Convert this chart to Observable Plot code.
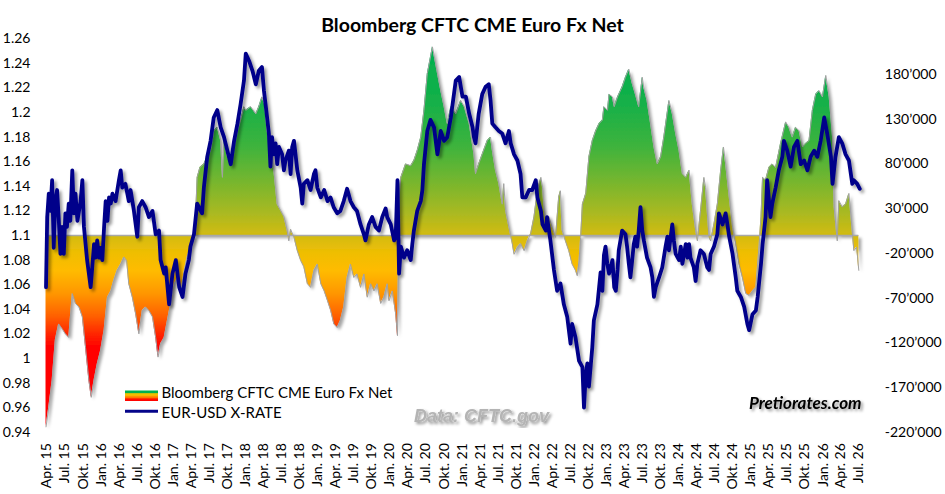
<!DOCTYPE html>
<html>
<head>
<meta charset="utf-8">
<script src="https://cdn.jsdelivr.net/npm/d3@7"></script>
<script src="https://cdn.jsdelivr.net/npm/@observablehq/plot@0.6"></script>
<style>
  html, body { margin: 0; padding: 0; background: #fff; }
  #chart { width: 945px; height: 494px; }
</style>
</head>
<body>
<div id="chart"></div>
<script>
// ---------------- data ----------------
const eurDates = [
  "2015-03-27","2015-04-02","2015-04-10","2015-04-18","2015-04-27","2015-05-05","2015-05-13","2015-05-22","2015-05-30","2015-06-08","2015-06-16","2015-06-25","2015-07-03","2015-07-11","2015-07-20","2015-07-28","2015-08-07","2015-08-15","2015-08-23","2015-09-02","2015-09-10","2015-09-18","2015-09-27","2015-10-05","2015-10-21","2015-11-08","2015-11-16","2015-11-25","2015-12-03","2015-12-11","2015-12-20","2015-12-28",
  "2016-01-06","2016-01-15","2016-01-23","2016-02-01","2016-02-09","2016-02-18","2016-02-26","2016-03-13","2016-03-30","2016-04-08","2016-04-16","2016-05-02","2016-05-19","2016-05-28","2016-06-14","2016-07-01","2016-07-09","2016-07-26","2016-08-12","2016-08-29","2016-09-16","2016-10-02","2016-10-19","2016-10-27","2016-11-14","2016-11-22","2016-12-09","2016-12-26",
  "2017-01-12","2017-01-29","2017-02-15","2017-03-02","2017-03-19","2017-03-27","2017-04-14","2017-04-30","2017-05-25","2017-06-03","2017-06-20","2017-07-07","2017-07-23","2017-08-10","2017-08-27","2017-09-13","2017-09-30","2017-10-17","2017-11-03","2017-11-20","2017-12-06","2017-12-23",
  "2018-01-01","2018-01-18","2018-02-04","2018-02-21","2018-03-08","2018-03-24","2018-04-03","2018-04-19","2018-04-28","2018-05-06","2018-05-14","2018-05-23","2018-06-01","2018-06-09","2018-06-18","2018-07-04","2018-07-13","2018-07-21","2018-08-07","2018-08-16","2018-08-24","2018-09-02","2018-09-19","2018-10-06","2018-10-14","2018-10-22","2018-11-09","2018-11-25","2018-12-12","2018-12-20","2018-12-29",
  "2019-01-16","2019-02-02","2019-02-19","2019-03-06","2019-03-22","2019-04-09","2019-04-25","2019-05-12","2019-05-29","2019-06-15","2019-07-02","2019-07-18","2019-08-05","2019-08-22","2019-08-30","2019-09-16","2019-10-03","2019-10-20","2019-11-06","2019-11-23","2019-12-10","2019-12-18",
  "2020-01-05","2020-01-22","2020-01-30","2020-02-08","2020-02-16","2020-02-25","2020-03-12","2020-03-28","2020-04-15","2020-04-23","2020-05-01","2020-05-18","2020-06-05","2020-06-13","2020-06-21","2020-07-08","2020-07-24","2020-08-11","2020-08-28","2020-09-14","2020-10-01","2020-10-17","2020-11-04","2020-11-29","2020-12-16",
  "2021-01-02","2021-01-19","2021-02-05","2021-02-22","2021-03-01","2021-03-09","2021-03-25","2021-04-12","2021-04-29","2021-05-15","2021-05-24","2021-06-02","2021-06-18","2021-07-05","2021-07-22","2021-08-08","2021-08-25","2021-09-03","2021-09-20","2021-10-07","2021-10-23","2021-11-01","2021-11-18","2021-12-05","2021-12-21",
  "2022-01-08","2022-01-16","2022-02-03","2022-02-11","2022-02-28","2022-03-06","2022-03-23","2022-04-10","2022-04-26","2022-05-13","2022-05-30","2022-06-16","2022-07-03","2022-07-11","2022-07-28","2022-08-15","2022-09-01","2022-09-09","2022-09-18","2022-09-26","2022-10-04","2022-10-21","2022-10-29","2022-11-16","2022-12-02","2022-12-11","2022-12-19","2022-12-27",
  "2023-01-05","2023-01-14","2023-01-31","2023-02-09","2023-02-17","2023-02-26","2023-03-04","2023-03-21","2023-04-07","2023-04-15","2023-04-24","2023-05-02","2023-05-11","2023-05-19","2023-05-27","2023-06-05","2023-06-13","2023-06-22","2023-07-01","2023-07-09","2023-07-25","2023-08-12","2023-08-21","2023-08-29","2023-09-07","2023-09-24","2023-10-10","2023-10-27","2023-11-05","2023-11-13","2023-11-30","2023-12-08","2023-12-17",
  "2024-01-03","2024-01-12","2024-01-20","2024-02-06","2024-02-15","2024-02-23","2024-03-01","2024-03-18","2024-03-27","2024-04-05","2024-04-21","2024-05-08","2024-05-25","2024-06-03","2024-06-11","2024-06-28","2024-07-15","2024-07-23","2024-08-10","2024-08-26","2024-09-04","2024-09-13","2024-09-30","2024-10-16","2024-10-24","2024-11-11","2024-11-28","2024-12-14","2024-12-23",
  "2025-01-09","2025-01-26","2025-02-04","2025-02-21","2025-03-01","2025-03-16","2025-03-24","2025-04-10","2025-04-19","2025-05-06","2025-05-22","2025-06-09","2025-06-17","2025-07-04","2025-07-21","2025-08-07","2025-08-24","2025-09-10","2025-09-27","2025-10-14","2025-10-30","2025-11-17","2025-12-03","2025-12-20",
  "2026-01-07","2026-01-23","2026-02-10","2026-02-18","2026-03-05","2026-03-22","2026-04-08","2026-04-25","2026-05-12","2026-05-29","2026-06-06","2026-06-23","2026-07-06"
];
const eurValues = [
  1.058,1.115,1.134,1.120,1.145,1.090,1.128,1.137,1.115,1.085,1.107,1.085,1.118,1.107,1.126,1.112,1.153,1.118,1.134,1.112,1.120,1.128,1.145,1.107,1.080,1.058,1.074,1.093,1.082,1.096,1.082,1.090,
  1.080,1.107,1.128,1.112,1.131,1.126,1.134,1.128,1.145,1.153,1.139,1.142,1.128,1.137,1.120,1.099,1.123,1.128,1.123,1.115,1.120,1.101,1.104,1.080,1.069,1.074,1.044,1.069,
  1.080,1.058,1.050,1.069,1.080,1.091,1.101,1.126,1.118,1.139,1.164,1.177,1.196,1.202,1.188,1.180,1.169,1.158,1.177,1.191,1.207,1.226,
  1.248,1.242,1.234,1.223,1.234,1.237,1.218,1.196,1.183,1.156,1.180,1.166,1.175,1.158,1.172,1.166,1.153,1.161,1.169,1.150,1.172,1.177,1.153,1.139,1.126,1.142,1.145,1.137,1.150,1.153,1.139,
  1.131,1.137,1.128,1.131,1.123,1.118,1.120,1.128,1.138,1.128,1.123,1.120,1.109,1.101,1.096,1.109,1.115,1.107,1.104,1.115,1.122,1.115,
  1.109,1.096,1.099,1.145,1.069,1.091,1.082,1.088,1.080,1.093,1.104,1.120,1.128,1.137,1.158,1.185,1.194,1.188,1.166,1.185,1.177,1.180,1.196,1.226,1.229,
  1.213,1.213,1.199,1.188,1.180,1.175,1.199,1.215,1.221,1.223,1.210,1.191,1.188,1.185,1.183,1.175,1.185,1.175,1.166,1.161,1.150,1.131,1.131,1.137,1.137,
  1.145,1.131,1.120,1.109,1.104,1.115,1.096,1.072,1.055,1.061,1.044,1.034,1.012,1.028,1.017,0.998,0.993,0.960,0.987,0.996,0.977,1.009,1.031,1.044,1.070,1.055,1.084,1.091,
  1.077,1.069,1.080,1.058,1.055,1.072,1.088,1.104,1.101,1.091,1.077,1.066,1.080,1.093,1.099,1.091,1.104,1.123,1.104,1.096,1.082,1.074,1.066,1.050,1.058,1.066,1.074,1.091,1.099,1.088,1.109,1.096,1.085,
  1.080,1.091,1.077,1.093,1.082,1.093,1.082,1.074,1.063,1.077,1.088,1.085,1.074,1.072,1.085,1.091,1.101,1.118,1.109,1.118,1.109,1.099,1.085,1.066,1.055,1.050,1.042,1.028,1.023,
  1.036,1.039,1.050,1.077,1.093,1.115,1.145,1.115,1.126,1.139,1.153,1.164,1.177,1.169,1.156,1.172,1.177,1.158,1.161,1.153,1.164,1.169,1.164,1.177,
  1.196,1.182,1.164,1.142,1.164,1.180,1.175,1.166,1.161,1.142,1.145,1.142,1.138
];

const netDates = [
  "2015-03-27","2015-04-10","2015-04-27","2015-05-13","2015-05-30","2015-06-16","2015-07-03","2015-07-20","2015-08-07","2015-08-23","2015-09-10","2015-09-27","2015-10-13","2015-10-30","2015-11-11","2015-11-25","2015-12-11","2015-12-28",
  "2016-01-15","2016-02-01","2016-02-18","2016-03-04","2016-03-21","2016-04-08","2016-04-24","2016-05-08","2016-05-19","2016-06-06","2016-06-23","2016-07-09","2016-07-26","2016-08-12","2016-08-29","2016-09-16","2016-10-02","2016-10-14","2016-10-27","2016-11-14","2016-11-27","2016-12-17",
  "2017-01-04","2017-01-21","2017-02-07","2017-02-24","2017-03-10","2017-03-27","2017-04-14","2017-04-22","2017-04-30","2017-05-14","2017-06-03","2017-06-20","2017-07-07","2017-07-23","2017-08-10","2017-08-27","2017-09-05","2017-09-13","2017-09-30","2017-10-17","2017-11-03","2017-11-20","2017-12-06","2017-12-23",
  "2018-01-01","2018-01-26","2018-02-21","2018-03-08","2018-03-24","2018-04-06","2018-04-19","2018-05-06","2018-05-23","2018-06-09","2018-06-26","2018-07-13","2018-07-29","2018-08-07","2018-08-16","2018-09-02","2018-09-19","2018-10-06","2018-10-22","2018-11-09","2018-11-25","2018-12-12","2018-12-29",
  "2019-01-16","2019-02-02","2019-02-19","2019-03-07","2019-03-23","2019-04-09","2019-04-25","2019-05-12","2019-05-29","2019-06-15","2019-07-02","2019-07-18","2019-08-05","2019-08-22","2019-09-08","2019-09-25","2019-10-12","2019-10-28","2019-11-15","2019-12-01","2019-12-18","2019-12-27",
  "2020-01-13","2020-01-30","2020-02-08","2020-02-16","2020-02-25","2020-03-20","2020-04-15","2020-05-01","2020-05-18","2020-06-05","2020-06-21","2020-07-08","2020-08-03","2020-08-19","2020-09-14","2020-10-01","2020-10-17","2020-11-04","2020-11-29","2020-12-24",
  "2021-01-11","2021-02-05","2021-03-01","2021-03-09","2021-03-25","2021-04-12","2021-05-07","2021-05-24","2021-06-02","2021-06-18","2021-07-05","2021-07-22","2021-07-30","2021-08-08","2021-08-25","2021-09-11","2021-09-20","2021-10-07","2021-10-23","2021-11-10","2021-11-26","2021-12-13","2021-12-30",
  "2022-01-16","2022-02-03","2022-02-11","2022-02-20","2022-03-06","2022-03-15","2022-04-01","2022-04-18","2022-05-04","2022-05-13","2022-05-21","2022-06-07","2022-06-24","2022-07-11","2022-07-28","2022-08-06","2022-08-15","2022-08-23","2022-09-01","2022-09-18","2022-10-04","2022-10-21","2022-11-07","2022-11-24","2022-12-11","2022-12-19",
  "2023-01-06","2023-01-14","2023-01-31","2023-02-09","2023-02-26","2023-03-21","2023-04-07","2023-04-24","2023-05-11","2023-05-27","2023-06-13","2023-07-01","2023-07-08","2023-07-25","2023-08-12","2023-08-29","2023-09-15","2023-10-02","2023-10-18","2023-11-13","2023-11-30","2023-12-17",
  "2024-01-03","2024-01-20","2024-02-06","2024-02-23","2024-03-10","2024-03-27","2024-04-05","2024-04-21","2024-05-08","2024-05-16","2024-06-03","2024-06-11","2024-06-28","2024-07-15","2024-08-01","2024-08-15","2024-08-26","2024-09-13","2024-09-30","2024-10-16","2024-11-02","2024-11-19","2024-12-06","2024-12-23",
  "2025-01-09","2025-01-26","2025-02-12","2025-02-21","2025-03-01","2025-03-16","2025-04-02","2025-04-19","2025-05-06","2025-05-31","2025-06-26","2025-07-12","2025-07-29","2025-08-15","2025-09-02","2025-09-19","2025-10-05","2025-10-22","2025-11-08","2025-11-25","2025-12-12","2025-12-29",
  "2026-01-15","2026-02-01","2026-02-18","2026-02-26","2026-03-14","2026-03-22","2026-04-08","2026-04-25","2026-05-12","2026-05-21","2026-06-06","2026-06-20","2026-07-01"
];
const netValues = [
  -214000,-192000,-162000,-117000,-99000,-104000,-110000,-114000,-65000,-76000,-80000,-91000,-125000,-162000,-181000,-162000,-144000,-129000,
  -106000,-69000,-62000,-50000,-39000,-32000,-24000,-28000,-54000,-69000,-88000,-110000,-84000,-80000,-84000,-91000,-114000,-136000,-121000,-114000,-99000,-76000,
  -54000,-47000,-62000,-39000,-24000,-13000,-2000,21000,65000,76000,80000,88000,95000,117000,121000,106000,65000,106000,88000,80000,99000,117000,129000,144000,
  140000,144000,136000,144000,155000,147000,117000,95000,73000,35000,28000,21000,6000,-6000,7000,-2000,-17000,-28000,-35000,-54000,-58000,-39000,-32000,
  -54000,-62000,-73000,-84000,-99000,-103000,-95000,-80000,-47000,-32000,-47000,-43000,-58000,-43000,-69000,-54000,-62000,-54000,-76000,-69000,-54000,-73000,
  -62000,-88000,-112000,43000,65000,80000,78000,84000,95000,110000,140000,181000,211000,192000,162000,144000,125000,144000,136000,151000,
  144000,125000,91000,69000,80000,91000,106000,110000,95000,73000,58000,35000,58000,28000,9000,-9000,-21000,-13000,-9000,-17000,-6000,2000,21000,
  50000,65000,54000,28000,9000,21000,9000,-2000,43000,50000,6000,-6000,-17000,-32000,-39000,-45000,-28000,-2000,35000,47000,88000,106000,117000,125000,129000,144000,
  140000,158000,155000,144000,155000,166000,177000,186000,170000,158000,144000,177000,166000,151000,125000,99000,80000,88000,110000,151000,136000,114000,
  95000,69000,65000,73000,35000,6000,-6000,28000,65000,54000,-2000,-6000,13000,35000,73000,99000,80000,43000,9000,-9000,-32000,-47000,-65000,-67000,
  -62000,-58000,-9000,21000,65000,62000,76000,80000,76000,103000,127000,121000,110000,121000,117000,99000,103000,106000,140000,158000,162000,155000,
  179000,155000,110000,32000,-6000,39000,32000,35000,47000,24000,-17000,-13000,-39000
];

const leftTicks = [0.94,0.96,0.98,1.0,1.02,1.04,1.06,1.08,1.1,1.12,1.14,1.16,1.18,1.2,1.22,1.24,1.26];
const netTicks = [-220000,-170000,-120000,-70000,-20000,30000,80000,130000,180000];
const monthLabels = {0: "Jan.", 3: "Apr.", 6: "Jul.", 9: "Okt."};
const gradientStops = [
  [211000, "#00b050"], [150000, "#14b049"], [100000, "#3db33d"], [60000, "#76b62e"],
  [25000, "#a9b922"], [0, "#d2bb10"], [-20000, "#efbe04"], [-40000, "#ffbb00"],
  [-65000, "#ff9700"], [-90000, "#ff6200"], [-110000, "#ff2800"], [-125000, "#ff0000"], [-214000, "#ff0000"]
];

// ------------- helpers (secondary axis mapping) -------------
const EUR_BASE = 1.1, EUR_HALF = 0.16, NET_HALF = 220000;
const toY = n => EUR_BASE + n * EUR_HALF / NET_HALF;
const fromY = y => (y - EUR_BASE) * NET_HALF / EUR_HALF;
const fmtNet = v => (v < 0 ? "-" : "") + d3.format(",")(Math.abs(v)).replace(/,/g, "\u2019");
const parse = d3.utcParse("%Y-%m-%d");

const eur = eurDates.map((d, i) => ({date: parse(d), v: eurValues[i]}));
const net = netDates.map((d, i) => ({date: parse(d), y: toY(netValues[i])}));
const quarterTicks = d3.utcMonth.every(3).range(parse("2015-04-01"), parse("2026-07-02"));

const plot = Plot.plot({
  width: 945,
  height: 494,
  marginTop: 38.3,
  marginBottom: 62.3,
  marginLeft: 46.5,
  marginRight: 86.7,
  style: {fontFamily: "Lato, 'Open Sans', sans-serif", fontSize: "14px", color: "#000", background: "#fff"},
  x: {type: "utc", domain: [parse("2015-04-01"), parse("2026-07-01")]},
  y: {domain: [0.94, 1.26]},
  marks: [
    Plot.areaY(net, {x: "date", y1: EUR_BASE, y2: "y", fill: "url(#cftcGrad)"}),
    Plot.ruleY([EUR_BASE], {stroke: "#a8a8a8", strokeWidth: 1.4}),
    Plot.line(net, {x: "date", y: "y", stroke: "#a2a2a2", strokeWidth: 1}),
    Plot.line(eur, {x: "date", y: "v", stroke: "#05058a", strokeWidth: 3.8, strokeLinejoin: "round", strokeLinecap: "round"}),
    Plot.axisY({anchor: "left", ticks: leftTicks, tickFormat: d => String(+d.toFixed(2)), tickSize: 0, tickPadding: 16.5, label: null}),
    Plot.axisY({anchor: "right", ticks: netTicks.map(toY), tickFormat: d => fmtNet(Math.round(fromY(d) / 1000) * 1000), tickSize: 0, tickPadding: 26, label: null}),
    Plot.axisX({ticks: quarterTicks, tickFormat: d => monthLabels[d.getUTCMonth()] + " " + String(d.getUTCFullYear()).slice(2), tickRotate: -90, tickSize: 0, tickPadding: 11, label: null})
  ]
});

document.getElementById("chart").appendChild(plot);

// ------------- decorations: gradient, shadows, title, legend -------------
const svg = d3.select(plot);
const defs = svg.insert("defs", ":first-child");
const [nMin, nMax] = d3.extent(netValues);
const grad = defs.append("linearGradient").attr("id", "cftcGrad")
  .attr("x1", 0).attr("y1", 0).attr("x2", 0).attr("y2", 1);
gradientStops.forEach(([v, c]) => {
  grad.append("stop").attr("offset", Math.max(0, Math.min(1, (nMax - v) / (nMax - nMin)))).attr("stop-color", c);
});
const legGrad = defs.append("linearGradient").attr("id", "legGrad")
  .attr("x1", 0).attr("y1", 0).attr("x2", 0).attr("y2", 1);
[[0, "#00b050"], [0.2, "#00b050"], [0.3, "#e8c000"], [0.45, "#f6c000"], [0.55, "#ff9400"], [0.7, "#ff7000"], [0.8, "#ff1000"], [1, "#ff0000"]]
  .forEach(([o, c]) => legGrad.append("stop").attr("offset", o).attr("stop-color", c));

function shadow(id, dx, dy, sd, op) {
  const f = defs.append("filter").attr("id", id)
    .attr("x", "-5%").attr("y", "-5%").attr("width", "115%").attr("height", "115%");
  f.append("feDropShadow").attr("dx", dx).attr("dy", dy).attr("stdDeviation", sd)
    .attr("flood-color", "#000").attr("flood-opacity", op);
}
shadow("shadowArea", 3, 3, 1.8, 0.35);
shadow("shadowLine", 2.5, 2.5, 1.5, 0.4);
shadow("shadowText", 2, 2, 1.5, 0.45);

svg.select('g[aria-label="area"]').attr("filter", "url(#shadowArea)");
const lineGroups = svg.selectAll('g[aria-label="line"]').nodes();
d3.select(lineGroups[lineGroups.length - 1]).attr("filter", "url(#shadowLine)");

// title
svg.append("text").attr("x", 472.5).attr("y", 32.3).attr("text-anchor", "middle")
  .attr("font-family", "Lato, sans-serif").attr("font-weight", "bold").attr("font-size", 19.5)
  .attr("fill", "#000").text("Bloomberg CFTC CME Euro Fx Net");

// legend
const leg = svg.append("g").attr("font-family", "Lato, sans-serif").attr("font-size", 15)
  .attr("fill", "#000").attr("text-anchor", "start");
leg.append("rect").attr("x", 125).attr("y", 390.5).attr("width", 33).attr("height", 10.5).attr("fill", "url(#legGrad)");
leg.append("text").attr("x", 161.5).attr("y", 398).attr("text-anchor", "start").text("Bloomberg CFTC CME Euro Fx Net");
leg.append("line").attr("x1", 125).attr("x2", 158).attr("y1", 411.3).attr("y2", 411.3)
  .attr("stroke", "#05058a").attr("stroke-width", 3);
leg.append("text").attr("x", 161.5).attr("y", 418).attr("text-anchor", "start").text("EUR-USD X-RATE");

// source & brand
svg.append("text").attr("x", 414).attr("y", 421.5).attr("text-anchor", "start")
  .attr("font-family", "'Liberation Sans', Arial, sans-serif").attr("font-weight", "bold").attr("font-style", "italic")
  .attr("font-size", 18).attr("fill", "#b4b4b4").attr("filter", "url(#shadowText)").text("Data: CFTC.gov");
svg.append("text").attr("x", 749).attr("y", 408.5).attr("text-anchor", "start")
  .attr("font-family", "Lato, sans-serif").attr("font-weight", "bold").attr("font-style", "italic")
  .attr("font-size", 17).attr("fill", "#000").attr("filter", "url(#shadowText)").text("Pretiorates.com");
</script>
</body>
</html>
